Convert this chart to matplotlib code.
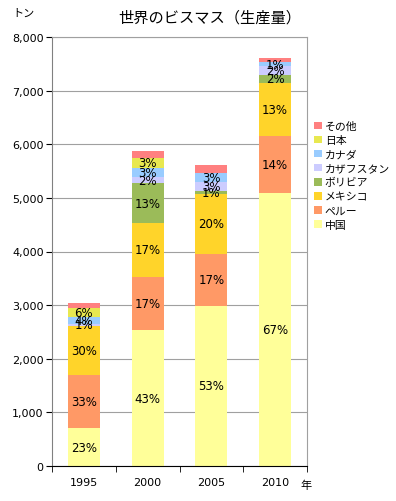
import matplotlib
matplotlib.use("Agg")
import matplotlib.pyplot as plt
import numpy as np
from matplotlib.ticker import FuncFormatter
from matplotlib.patches import Patch

plt.rcParams['font.family'] = ['Noto Sans CJK JP', 'DejaVu Sans']

years = ['1995', '2000', '2005', '2010']
series = ['中国', 'ペルー', 'メキシコ', 'ボリビア', 'カザフスタン', 'カナダ', '日本', 'その他']

china = [700, 2530, 2990, 5100]
peru = [1000, 1000, 960, 1060]
mexico = [920, 1000, 1130, 990]
bolivia = [0, 740, 50, 150]
kazakhstan = [30, 118, 170, 150]
canada = [120, 176, 170, 90]
japan = [180, 176, 0, 0]
other = [90, 140, 150, 60]

colors = ['#FFFF99', '#FF9966', '#FFD42A', '#9BBB59', '#CCCCFF', '#99CCFF', '#E8E850', '#FF8080']

data = np.array([china, peru, mexico, bolivia, kazakhstan, canada, japan, other], dtype=float)
totals = data.sum(axis=0)

fig = plt.figure(figsize=(3.96, 5.02), dpi=100)
ax = fig.add_axes([52 / 396, 1 - 467 / 502, 255 / 396, 429 / 502])

x = np.arange(len(years))
bottom = np.zeros(len(years))
for i, (name, vals) in enumerate(zip(series, data)):
    ax.bar(x, vals, 0.5, bottom=bottom, color=colors[i], label=name, zorder=2)
    if name != 'その他':
        for j, v in enumerate(vals):
            if v > 0:
                pct = v / totals[j] * 100
                ax.text(x[j], bottom[j] + v / 2, f'{pct:.0f}%', ha='center', va='center',
                        fontsize=8.5, family=['DejaVu Sans'], zorder=3)
    bottom += vals

ax.set_xlim(-0.5, 3.5)
ax.set_ylim(0, 8000)
ax.set_yticks(np.arange(0, 8001, 1000))
ax.yaxis.set_major_formatter(FuncFormatter(lambda v, p: f'{int(v):,}'))
ax.set_xticks(x)
ax.set_xticklabels(years)
ax.set_xticks(np.arange(-0.5, 3.6, 1), minor=True)
ax.tick_params(axis='x', which='major', length=0, labelsize=8, pad=8)
ax.tick_params(axis='x', which='minor', length=4, direction='out')
ax.tick_params(axis='y', labelsize=8, length=4, direction='out', pad=2)
for lab in ax.get_xticklabels() + ax.get_yticklabels():
    lab.set_family('DejaVu Sans')

ax.grid(axis='y', color='#A0A0A0', linewidth=0.8, zorder=0)
ax.spines['top'].set_color('#A0A0A0')
ax.spines['right'].set_color('#A0A0A0')
ax.spines['left'].set_color('#808080')
ax.spines['bottom'].set_color('black')

fig.text(210 / 396, 1 - 18 / 502, '世界のビスマス（生産量）', ha='center', va='center', fontsize=11)
fig.text(12 / 396, 1 - 14 / 502, 'トン', ha='left', va='center', fontsize=8)
fig.text(300 / 396, 1 - 486 / 502, '年', ha='left', va='center', fontsize=8)

handles = [Patch(facecolor=c, edgecolor='none') for c in colors][::-1]
ax.legend(handles, series[::-1], loc='upper left', bbox_to_anchor=(314 / 396, 1 - 122 / 502),
          bbox_transform=fig.transFigure, frameon=False, fontsize=7.8,
          handlelength=0.7, handleheight=0.7, handletextpad=0.3, labelspacing=0.38,
          borderaxespad=0, borderpad=0)

fig.savefig('out.png', dpi=100)
